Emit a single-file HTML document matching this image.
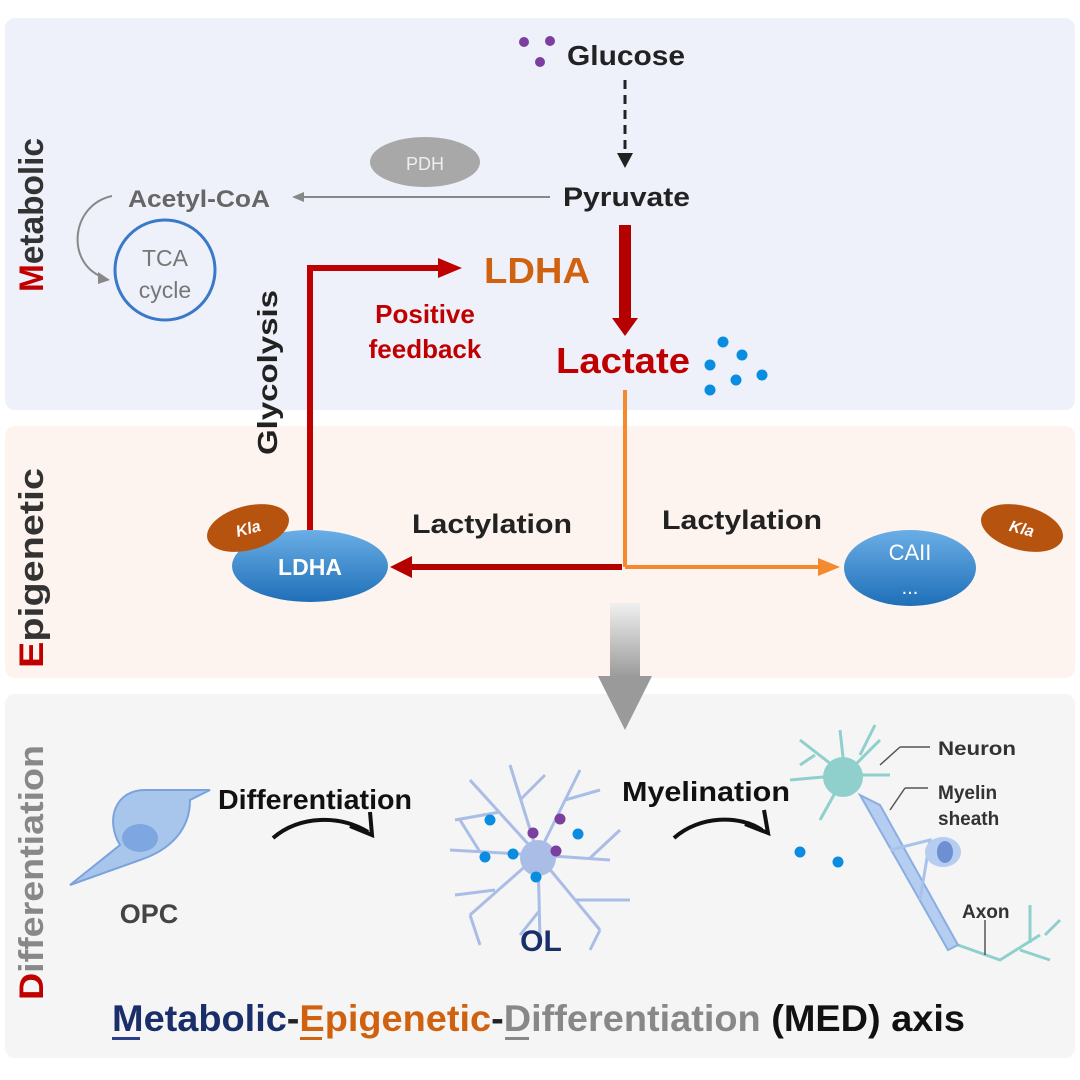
<!DOCTYPE html>
<html><head><meta charset="utf-8"><style>
html,body{margin:0;padding:0;background:#fff}
svg{display:block;font-family:"Liberation Sans",Arial,sans-serif}
</style></head><body>
<svg width="1080" height="1080" viewBox="0 0 1080 1080">
<defs>
<linearGradient id="ell" x1="0" y1="0" x2="0" y2="1"><stop offset="0" stop-color="#6aaee6"/><stop offset="1" stop-color="#1f6fb8"/></linearGradient>
<linearGradient id="gar" x1="0" y1="0" x2="0" y2="1"><stop offset="0" stop-color="#f0f0f0"/><stop offset="1" stop-color="#9a9a9a"/></linearGradient>
</defs>
<rect x="5" y="18" width="1070" height="392" rx="10" fill="#eef1fa"/>
<rect x="5" y="426" width="1070" height="252" rx="10" fill="#fdf4ef"/>
<rect x="5" y="694" width="1070" height="364" rx="10" fill="#f5f5f5"/>

<!-- side labels -->
<text transform="translate(43,292) rotate(-90)" font-size="34" font-weight="bold" fill="#333" textLength="154" lengthAdjust="spacingAndGlyphs"><tspan fill="#c00000">M</tspan>etabolic</text>
<text transform="translate(43,668) rotate(-90)" font-size="34" font-weight="bold" fill="#333" textLength="200" lengthAdjust="spacingAndGlyphs"><tspan fill="#c00000">E</tspan>pigenetic</text>
<text transform="translate(43,1000) rotate(-90)" font-size="34" font-weight="bold" fill="#888" textLength="255" lengthAdjust="spacingAndGlyphs"><tspan fill="#c00000">D</tspan>ifferentiation</text>

<!-- glucose -->
<circle cx="524" cy="42" r="5" fill="#7b3fa0"/><circle cx="550" cy="41" r="5" fill="#7b3fa0"/><circle cx="540" cy="62" r="5" fill="#7b3fa0"/>
<text x="567" y="65" font-size="28" font-weight="bold" fill="#222" textLength="118" lengthAdjust="spacingAndGlyphs">Glucose</text>
<line x1="625" y1="80" x2="625" y2="155" stroke="#222" stroke-width="3" stroke-dasharray="9,6"/>
<polygon points="617,153 633,153 625,168" fill="#222"/>
<text x="563" y="206" font-size="27" font-weight="bold" fill="#222" textLength="127" lengthAdjust="spacingAndGlyphs">Pyruvate</text>
<line x1="550" y1="197" x2="300" y2="197" stroke="#888" stroke-width="2"/>
<polygon points="292,197 304,192 304,202" fill="#888"/>
<ellipse cx="425" cy="162" rx="55" ry="25" fill="#a8a8a8"/>
<text x="425" y="170" font-size="18" fill="#eee" text-anchor="middle">PDH</text>
<text x="128" y="207" font-size="24" font-weight="bold" fill="#666" textLength="142" lengthAdjust="spacingAndGlyphs">Acetyl-CoA</text>
<path d="M112,196 C70,205 65,265 105,278" fill="none" stroke="#888" stroke-width="2"/>
<polygon points="110,280 98,272 98,284" fill="#888"/>
<circle cx="165" cy="270" r="50" fill="none" stroke="#3a78c8" stroke-width="3"/>
<text x="165" y="266" font-size="23" fill="#777" text-anchor="middle">TCA</text>
<text x="165" y="298" font-size="23" fill="#777" text-anchor="middle">cycle</text>

<!-- red arrow pyruvate->lactate -->
<rect x="619" y="225" width="12" height="95" fill="#b50000"/>
<polygon points="612,318 638,318 625,336" fill="#b50000"/>
<text x="556" y="373" font-size="36" font-weight="bold" fill="#c00000" textLength="134" lengthAdjust="spacingAndGlyphs">Lactate</text>
<circle cx="723" cy="342" r="5.5" fill="#0a8de0"/><circle cx="742" cy="355" r="5.5" fill="#0a8de0"/><circle cx="710" cy="365" r="5.5" fill="#0a8de0"/><circle cx="736" cy="380" r="5.5" fill="#0a8de0"/><circle cx="762" cy="375" r="5.5" fill="#0a8de0"/><circle cx="710" cy="390" r="5.5" fill="#0a8de0"/>

<text x="484" y="283" font-size="36" font-weight="bold" fill="#d0620f" textLength="106" lengthAdjust="spacingAndGlyphs">LDHA</text>
<polyline points="310,530 310,268 440,268" fill="none" stroke="#c00000" stroke-width="6"/>
<polygon points="438,258 462,268 438,278" fill="#c00000"/>
<text x="425" y="323" font-size="26" font-weight="bold" fill="#c00000" text-anchor="middle">Positive</text>
<text x="425" y="358" font-size="26" font-weight="bold" fill="#c00000" text-anchor="middle">feedback</text>
<text transform="translate(277,455) rotate(-90)" font-size="28" font-weight="bold" fill="#222" textLength="165" lengthAdjust="spacingAndGlyphs">Glycolysis</text>

<!-- lactylation -->
<line x1="625" y1="390" x2="625" y2="567" stroke="#f5892e" stroke-width="4"/>
<line x1="625" y1="567" x2="820" y2="567" stroke="#f5892e" stroke-width="4"/>
<polygon points="818,558 840,567 818,576" fill="#f5892e"/>
<line x1="622" y1="567" x2="410" y2="567" stroke="#b50000" stroke-width="6"/>
<polygon points="412,556 390,567 412,578" fill="#b50000"/>
<text x="412" y="533" font-size="27" font-weight="bold" fill="#222" textLength="160" lengthAdjust="spacingAndGlyphs">Lactylation</text>
<text x="662" y="529" font-size="27" font-weight="bold" fill="#222" textLength="160" lengthAdjust="spacingAndGlyphs">Lactylation</text>
<ellipse cx="310" cy="566" rx="78" ry="36" fill="url(#ell)"/>
<text x="310" y="575" font-size="23" font-weight="bold" fill="#fff" text-anchor="middle">LDHA</text>
<ellipse cx="248" cy="528" rx="42" ry="22" fill="#b6530f" transform="rotate(-15 248 528)"/>
<text x="248" y="534" font-size="16" font-style="italic" font-weight="bold" fill="#fff" text-anchor="middle" transform="rotate(-15 248 528)">Kla</text>
<ellipse cx="910" cy="568" rx="66" ry="38" fill="url(#ell)"/>
<text x="910" y="560" font-size="22" fill="#fff" text-anchor="middle">CAII</text>
<text x="910" y="594" font-size="20" fill="#fff" text-anchor="middle">...</text>
<ellipse cx="1022" cy="528" rx="42" ry="22" fill="#b6530f" transform="rotate(15 1022 528)"/>
<text x="1022" y="534" font-size="16" font-style="italic" font-weight="bold" fill="#fff" text-anchor="middle" transform="rotate(15 1022 528)">Kla</text>

<!-- big grey arrow -->
<rect x="610" y="603" width="30" height="75" fill="url(#gar)"/>
<polygon points="598,676 652,676 625,730" fill="#9a9a9a"/>

<!-- OPC -->
<path d="M70,885 L120,845 C105,820 115,790 145,790 L210,790 L190,800 C190,830 170,850 140,860 Z" fill="#a8c6ec" stroke="#7aa2dd" stroke-width="2"/>
<ellipse cx="140" cy="838" rx="18" ry="14" fill="#7ea6e0"/>
<text x="149" y="923" font-size="27" font-weight="bold" fill="#444" text-anchor="middle">OPC</text>
<text x="218" y="809" font-size="28" font-weight="bold" fill="#111" textLength="194" lengthAdjust="spacingAndGlyphs">Differentiation</text>
<path d="M273,838 C300,815 340,815 368,832" fill="none" stroke="#111" stroke-width="4"/>
<polyline points="350,826 372,835 370,812" fill="none" stroke="#111" stroke-width="4"/>

<!-- OL -->
<g stroke="#a9bde6" stroke-width="3" fill="none">
<path d="M538,855 L470,780 M500,812 L455,820 M538,855 L580,770 M565,800 L600,790 M538,855 L610,860 M590,858 L620,830 M538,855 L600,930 M575,900 L630,900 M538,855 L540,940 M540,910 L520,935 M538,855 L470,915 M495,890 L455,895 M538,855 L450,850 M480,852 L460,820 M538,855 L510,765 M520,800 L545,775 M600,930 L590,950 M470,915 L480,945"/>
</g>
<circle cx="538" cy="858" r="18" fill="#a9bde6"/>
<circle cx="490" cy="820" r="5.5" fill="#0a8de0"/><circle cx="485" cy="857" r="5.5" fill="#0a8de0"/><circle cx="513" cy="854" r="5.5" fill="#0a8de0"/><circle cx="578" cy="834" r="5.5" fill="#0a8de0"/><circle cx="536" cy="877" r="5.5" fill="#0a8de0"/>
<circle cx="533" cy="833" r="5.5" fill="#7b3fa0"/><circle cx="560" cy="819" r="5.5" fill="#7b3fa0"/><circle cx="556" cy="851" r="5.5" fill="#7b3fa0"/>
<text x="541" y="951" font-size="30" font-weight="bold" fill="#1a2e6a" text-anchor="middle">OL</text>

<text x="622" y="801" font-size="28" font-weight="bold" fill="#111" textLength="168" lengthAdjust="spacingAndGlyphs">Myelination</text>
<path d="M674,838 C700,815 740,815 762,830" fill="none" stroke="#111" stroke-width="4"/>
<polyline points="745,824 768,833 764,810" fill="none" stroke="#111" stroke-width="4"/>
<circle cx="800" cy="852" r="5.5" fill="#0a8de0"/><circle cx="838" cy="862" r="5.5" fill="#0a8de0"/>

<!-- neuron -->
<g stroke="#8fd0cc" stroke-width="3" fill="none">
<path d="M845,775 L800,740 M845,775 L790,780 M845,775 L820,820 M845,775 L880,740 M845,775 L840,730 M845,775 L890,775 M860,755 L875,725 M815,755 L800,765"/>
<path d="M958,945 L1000,960 L1040,935 M1020,950 L1050,960 M1030,943 L1030,905 M1045,935 L1060,920"/>
</g>
<circle cx="843" cy="777" r="20" fill="#8fd0cc"/>
<path d="M860,795 L880,805 L958,945 L948,950 Z" fill="#b5cdf0" stroke="#8aaee0" stroke-width="2"/>
<path d="M890,850 L930,840 L920,900" fill="none" stroke="#a9c2ec" stroke-width="3"/>
<ellipse cx="943" cy="852" rx="18" ry="15" fill="#b5cdf0"/><ellipse cx="945" cy="852" rx="8" ry="11" fill="#6e8fd2"/>
<g stroke="#555" stroke-width="1.5"><line x1="900" y1="747" x2="930" y2="747"/><line x1="900" y1="747" x2="880" y2="765"/><line x1="905" y1="788" x2="928" y2="788"/><line x1="905" y1="788" x2="890" y2="810"/><line x1="985" y1="920" x2="985" y2="955"/></g>
<text x="938" y="755" font-size="19" font-weight="bold" fill="#333" textLength="78" lengthAdjust="spacingAndGlyphs">Neuron</text>
<text x="938" y="799" font-size="19" font-weight="bold" fill="#333">Myelin</text>
<text x="938" y="825" font-size="19" font-weight="bold" fill="#333">sheath</text>
<text x="962" y="918" font-size="19" font-weight="bold" fill="#333">Axon</text>

<!-- bottom title -->
<text x="112" y="1031" font-size="37" font-weight="bold" textLength="853" lengthAdjust="spacingAndGlyphs"><tspan fill="#1a2e6a">Metabolic</tspan><tspan fill="#222">-</tspan><tspan fill="#d0620f">Epigenetic</tspan><tspan fill="#222">-</tspan><tspan fill="#888">Differentiation</tspan><tspan fill="#111"> (MED) axis</tspan></text>
<rect x="112" y="1037" width="28" height="3" fill="#2a3e8a"/>
<rect x="300" y="1037" width="22" height="3" fill="#d0620f"/>
<rect x="505" y="1037" width="24" height="3" fill="#888"/>
</svg>
</body></html>
